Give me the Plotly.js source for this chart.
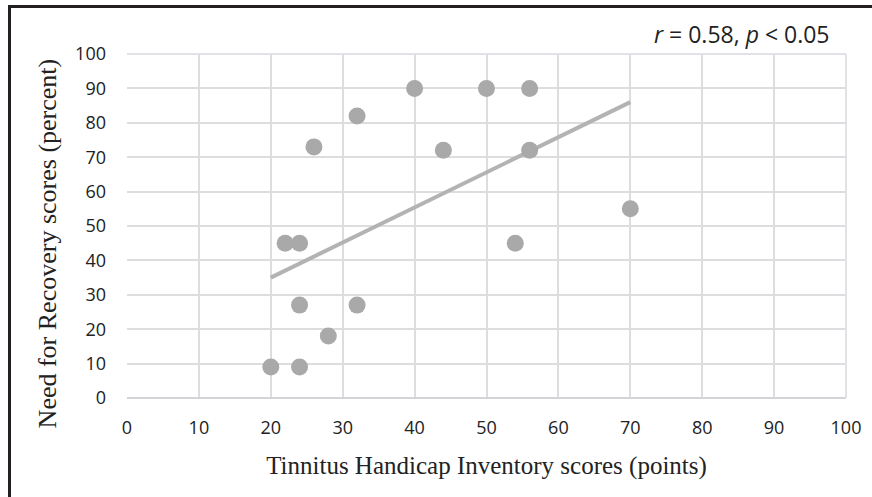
<!DOCTYPE html>
<html>
<head>
<meta charset="utf-8">
<script src="https://cdn.plot.ly/plotly-3.0.1.min.js"></script>
<style>
  html, body { margin: 0; padding: 0; background: #fff; }
  #wrap { position: relative; width: 872px; height: 497px; }
  #chart { position: absolute; left: 0; top: 0; width: 872px; height: 497px; }
  #frame { position: absolute; left: 8px; top: 5px; right: 0; bottom: 0;
           border-left: 3px solid #231f20; border-top: 3px solid #231f20;
           pointer-events: none; }
</style>
</head>
<body>
<div id="wrap">
  <div id="chart"></div>
  <div id="frame"></div>
</div>
<script>
// Tinnitus Handicap Inventory scores (points)
const thiScores = [20, 24, 24, 28, 32, 22, 24, 26, 32, 40, 50, 56, 44, 56, 70, 54];
// Need for Recovery scores (percent)
const nfrScores = [9, 9, 27, 18, 27, 45, 45, 73, 82, 90, 90, 90, 72, 72, 55, 45];
// Trend line end points
const trendX = [20, 70];
const trendY = [35, 86];
const tickValues = [0, 10, 20, 30, 40, 50, 60, 70, 80, 90, 100];
const xTitle = 'Tinnitus Handicap Inventory scores (points)';
const yTitle = 'Need for Recovery scores (percent)';
const statText = '<i>r</i> = 0.58, <i>p</i> &lt; 0.05';

const serif = 'Liberation Serif, Times New Roman, serif';

const traces = [
  {
    x: trendX, y: trendY, type: 'scatter', mode: 'lines',
    line: {color: '#b3b3b3', width: 4}, hoverinfo: 'skip', showlegend: false
  },
  {
    x: thiScores, y: nfrScores, type: 'scatter', mode: 'markers',
    marker: {color: '#a9a9a9', size: 17, line: {width: 0}}, showlegend: false
  }
];

const axisCommon = {
  range: [0, 100], tickvals: tickValues, ticks: '',
  showgrid: true, gridcolor: '#dddde0', gridwidth: 2,
  zeroline: false, showline: false,
  tickfont: {family: 'Open Sans, sans-serif', size: 18, color: '#222'},
  fixedrange: true
};

const layout = {
  width: 872, height: 497,
  margin: {l: 127, r: 26, t: 54, b: 99},
  paper_bgcolor: '#fff', plot_bgcolor: '#fff',
  xaxis: Object.assign({}, axisCommon, {
    ticklabelstandoff: 17,
    title: {text: xTitle, font: {family: serif, size: 25, color: '#222'}, standoff: 18}
  }),
  yaxis: Object.assign({}, axisCommon, {
    ticklabelstandoff: 20
  }),
  shapes: [
    {type: 'line', xref: 'paper', yref: 'paper', x0: 0, x1: 1, y0: 0, y1: 0, line: {color: '#d4d4d8', width: 2}},
    {type: 'line', xref: 'paper', yref: 'paper', x0: 1, x1: 1, y0: 0, y1: 1, line: {color: '#e2e2e6', width: 2}},
    {type: 'line', xref: 'paper', yref: 'paper', x0: 0, x1: 1, y0: 1, y1: 1, line: {color: '#e2e2e6', width: 2}}
  ],
  annotations: [
    {
      text: statText, xref: 'paper', yref: 'paper', x: 0.98, y: 1.058,
      xanchor: 'right', yanchor: 'middle', showarrow: false,
      font: {family: 'Open Sans, sans-serif', size: 23, color: '#222'}
    },
    {
      text: yTitle, xref: 'paper', yref: 'paper', x: -0.111, y: 0.45,
      xanchor: 'center', yanchor: 'middle', textangle: -90, showarrow: false,
      font: {family: serif, size: 26, color: '#222'}
    }
  ]
};

Plotly.newPlot('chart', traces, layout, {displayModeBar: false, staticPlot: true});
</script>
</body>
</html>
